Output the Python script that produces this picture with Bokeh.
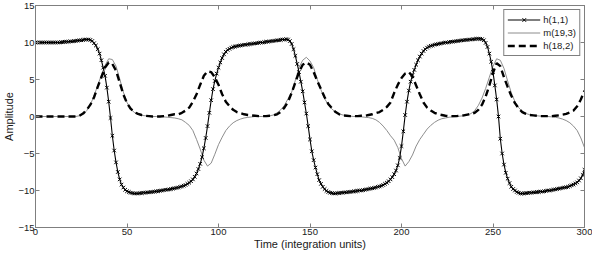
from bokeh.plotting import figure
from bokeh.models import (LinearAxis, Range1d, Legend, LegendItem, FixedTicker,
                          ColumnDataSource, CustomLabelingPolicy)
from bokeh.embed import file_html
from bokeh.resources import INLINE

# ---------------- data ----------------
time_h = list(range(0, 301))          # integration units, step 1
h11 = [
    10.0, 10.0, 10.0, 10.0, 10.0, 10.0, 10.0, 10.0, 10.0, 10.0,
    10.0, 10.0, 10.0, 10.0, 10.05, 10.05, 10.1, 10.1, 10.1, 10.15,
    10.15, 10.2, 10.2, 10.25, 10.3, 10.3, 10.35, 10.4, 10.4, 10.4,
    10.35, 10.2, 9.9, 9.6, 9.1, 8.5, 7.6, 6.6, 5.5, 3.9,
    2.0, -0.2, -2.6, -4.6, -6.2, -7.5, -8.5, -9.2, -9.6, -9.9,
    -10.1, -10.2, -10.3, -10.35, -10.4, -10.4, -10.4, -10.35, -10.35, -10.3,
    -10.3, -10.25, -10.25, -10.2, -10.2, -10.15, -10.1, -10.1, -10.05, -10.0,
    -9.95, -9.9, -9.9, -9.85, -9.8, -9.75, -9.7, -9.65, -9.6, -9.5,
    -9.45, -9.35, -9.25, -9.1, -8.95, -8.75, -8.5, -8.15, -7.7, -7.1,
    -6.4, -5.5, -4.3, -2.9, -1.3, 0.5, 2.2, 3.7, 4.8, 5.8,
    6.6, 7.3, 7.9, 8.4, 8.75, 9.0, 9.15, 9.3, 9.4, 9.45,
    9.5, 9.55, 9.6, 9.65, 9.7, 9.7, 9.75, 9.8, 9.8, 9.85,
    9.9, 9.9, 9.95, 10.0, 10.0, 10.05, 10.1, 10.1, 10.15, 10.2,
    10.2, 10.25, 10.3, 10.3, 10.35, 10.4, 10.4, 10.45, 10.4, 10.2,
    9.8, 9.1, 8.2, 7.1, 6.0, 4.7, 3.4, 1.9, 0.4, -1.3,
    -3.1, -4.7, -5.9, -6.9, -7.8, -8.6, -9.1, -9.5, -9.8, -10.05,
    -10.2, -10.3, -10.35, -10.4, -10.4, -10.35, -10.35, -10.3, -10.3, -10.25,
    -10.25, -10.2, -10.2, -10.15, -10.1, -10.1, -10.05, -10.0, -10.0, -9.95,
    -9.9, -9.85, -9.8, -9.75, -9.7, -9.65, -9.6, -9.5, -9.45, -9.35,
    -9.25, -9.1, -8.95, -8.75, -8.5, -8.2, -7.8, -7.3, -6.6, -5.6,
    -4.0, -2.0, 0.2, 2.0, 3.5, 4.7, 5.6, 6.3, 7.0, 7.6,
    8.1, 8.5, 8.85, 9.1, 9.3, 9.45, 9.55, 9.6, 9.7, 9.75,
    9.8, 9.85, 9.9, 9.95, 10.0, 10.0, 10.05, 10.1, 10.1, 10.15,
    10.2, 10.2, 10.25, 10.3, 10.3, 10.35, 10.35, 10.4, 10.4, 10.45,
    10.45, 10.5, 10.5, 10.5, 10.45, 10.3, 9.95, 9.4, 8.5, 7.4,
    6.0, 4.2, 2.3, 0.0, -3.0, -5.0, -6.5, -7.6, -8.4, -9.0,
    -9.5, -9.8, -10.0, -10.2, -10.3, -10.4, -10.4, -10.4, -10.35, -10.35,
    -10.3, -10.3, -10.25, -10.25, -10.2, -10.2, -10.15, -10.15, -10.1, -10.05,
    -10.0, -10.0, -9.95, -9.9, -9.85, -9.8, -9.75, -9.7, -9.65, -9.6,
    -9.55, -9.5, -9.4, -9.3, -9.2, -9.05, -8.9, -8.65, -8.35, -7.9,
    -7.2,
]

time_s = list(range(0, 301, 2))       # step 2 for the smooth lines
m193 = [
    0.0, 0.0, 0.0, 0.0, 0.0, 0.0, 0.0, 0.0, 0.0, 0.0,
    0.0, 0.0, 0.1, 0.3, 0.8, 1.6, 2.8, 4.2, 5.6, 6.9,
    7.8, 7.7, 6.8, 5.1, 3.3, 1.9, 1.0, 0.55, 0.3, 0.15,
    0.1, 0.05, 0.0, 0.0, 0.0, -0.05, -0.1, -0.15, -0.2, -0.3,
    -0.45, -0.8, -1.2, -1.9, -3.1, -4.4, -5.9, -6.7, -6.3, -5.1,
    -3.8, -2.8, -1.9, -1.3, -0.85, -0.55, -0.35, -0.2, -0.12, -0.06,
    0.0, 0.0, 0.0, 0.05, 0.1, 0.2, 0.5, 0.9, 1.5, 2.4,
    3.3, 4.9, 6.6, 7.6, 8.0, 7.5, 6.6, 5.0, 3.6, 2.4,
    1.6, 1.0, 0.6, 0.35, 0.2, 0.1, 0.05, 0.0, 0.0, -0.05,
    -0.1, -0.15, -0.25, -0.45, -0.8, -1.3, -1.9, -2.6, -3.2, -4.2,
    -5.7, -6.7, -6.1, -5.2, -4.0, -3.1, -2.4, -1.7, -1.2, -0.8,
    -0.5, -0.3, -0.2, -0.1, -0.05, 0.0, 0.05, 0.1, 0.2, 0.4,
    0.8, 1.5, 2.5, 3.8, 5.3, 6.8, 7.8, 7.6, 6.5, 4.8,
    3.2, 2.0, 1.2, 0.7, 0.4, 0.25, 0.15, 0.1, 0.05, 0.0,
    0.0, -0.05, -0.1, -0.2, -0.35, -0.55, -0.85, -1.3, -1.9, -2.9,
    -4.2,
]
h182 = [
    0.0, 0.0, 0.0, 0.0, 0.0, 0.0, 0.0, 0.0, 0.0, 0.0,
    0.0, 0.0, 0.1, 0.4, 0.9, 1.6, 2.6, 4.0, 5.3, 6.6,
    7.3, 7.1, 6.2, 4.6, 3.0, 1.8, 1.05, 0.6, 0.35, 0.2,
    0.1, 0.05, 0.0, 0.0, 0.0, 0.05, 0.1, 0.2, 0.3, 0.3,
    0.5, 0.8, 1.2, 2.0, 3.0, 4.3, 5.5, 6.1, 6.0, 5.3,
    4.3, 3.0, 2.0, 1.4, 0.9, 0.6, 0.45, 0.3, 0.2, 0.15,
    0.1, 0.05, 0.05, 0.05, 0.1, 0.15, 0.3, 0.6, 1.2, 2.0,
    3.2, 4.6, 6.0, 7.0, 7.3, 7.0, 6.0, 4.8, 3.7, 2.6,
    1.7, 1.1, 0.6, 0.3, 0.15, 0.1, 0.05, 0.05, 0.05, 0.1,
    0.1, 0.2, 0.3, 0.45, 0.6, 0.9, 1.3, 1.9, 3.2, 4.3,
    5.2, 5.8, 6.0, 5.4, 4.2, 3.0, 1.9, 1.2, 0.8, 0.5,
    0.3, 0.2, 0.1, 0.05, 0.05, 0.05, 0.1, 0.15, 0.25, 0.35,
    0.5, 0.9, 1.6, 2.7, 4.2, 5.9, 7.2, 6.8, 5.3, 4.0,
    2.8, 1.8, 1.1, 0.6, 0.35, 0.2, 0.15, 0.1, 0.05, 0.05,
    0.05, 0.05, 0.1, 0.15, 0.25, 0.35, 0.55, 0.8, 1.4, 2.3,
    3.5,
]
x_ticks = [0, 50, 100, 150, 200, 250, 300]
y_ticks = [-15, -10, -5, 0, 5, 10, 15]
labels = ["h(1,1)", "m(19,3)", "h(18,2)"]

assert len(h11) == len(time_h)
assert len(m193) == len(time_s) and len(h182) == len(time_s)

# ---------------- figure ----------------
FONT = "Liberation Sans"
AX = "#7f7f7f"
TXT = "#1a1a1a"

p = figure(width=592, height=252, x_range=Range1d(0, 300), y_range=Range1d(-15, 15),
           output_backend="svg", toolbar_location=None,
           min_border_left=10, min_border_right=8, min_border_top=5, min_border_bottom=10)
p.background_fill_color = "white"
p.border_fill_color = "white"
p.outline_line_color = AX
p.outline_line_width = 1
p.xgrid.visible = False
p.ygrid.visible = False

hide_all = CustomLabelingPolicy(code="return new Set()")

def style_axis(ax, show_labels=True):
    ax.axis_line_color = AX
    ax.major_tick_line_color = AX
    ax.major_tick_in = 4
    ax.major_tick_out = 0
    ax.minor_tick_line_color = None
    ax.major_label_text_font = FONT
    ax.major_label_text_color = TXT
    ax.axis_label_text_font = FONT
    ax.axis_label_text_color = TXT
    ax.axis_label_text_font_style = "normal"
    if show_labels:
        ax.major_label_text_font_size = "9.5px"
        ax.axis_label_text_font_size = "11px"
        ax.major_label_standoff = 1
        ax.axis_label_standoff = 0
    else:
        ax.major_label_text_font_size = "1px"
        ax.major_label_standoff = 0
        ax.major_label_policy = hide_all

p.xaxis.ticker = FixedTicker(ticks=x_ticks)
p.yaxis.ticker = FixedTicker(ticks=y_ticks)
p.xaxis.axis_label = "Time (integration units)"
p.yaxis.axis_label = "Amplitude"
style_axis(p.xaxis[0])
style_axis(p.yaxis[0])

ax_top = LinearAxis(ticker=FixedTicker(ticks=x_ticks))
style_axis(ax_top, show_labels=False)
p.add_layout(ax_top, "above")
ax_right = LinearAxis(ticker=FixedTicker(ticks=y_ticks))
style_axis(ax_right, show_labels=False)
p.add_layout(ax_right, "right")

src_h = ColumnDataSource(dict(t=time_h, h11=h11))
src_s = ColumnDataSource(dict(t=time_s, m193=m193, h182=h182))

r_m = p.line("t", "m193", source=src_s, line_color="#808080", line_width=0.9)
r_d = p.line("t", "h182", source=src_s, line_color="black", line_width=2.4, line_dash="7 4")
r_h = p.line("t", "h11", source=src_h, line_color="black", line_width=1.1)
r_hx = p.scatter("t", "h11", source=src_h, marker="x", size=5, line_color="black", line_width=1)

legend = Legend(items=[LegendItem(label=labels[0], renderers=[r_h, r_hx]),
                       LegendItem(label=labels[1], renderers=[r_m]),
                       LegendItem(label=labels[2], renderers=[r_d])],
                location="top_right")
legend.margin = 4
legend.padding = 3
legend.spacing = 0
legend.glyph_width = 33
legend.glyph_height = 13
legend.label_height = 13
legend.label_standoff = 3
legend.label_text_font = FONT
legend.label_text_font_size = "9.5px"
legend.label_text_color = TXT
legend.border_line_color = "black"
legend.border_line_width = 1
legend.background_fill_color = "white"
legend.background_fill_alpha = 1
p.add_layout(legend)

open("out.html", "w").write(file_html(p, INLINE))
